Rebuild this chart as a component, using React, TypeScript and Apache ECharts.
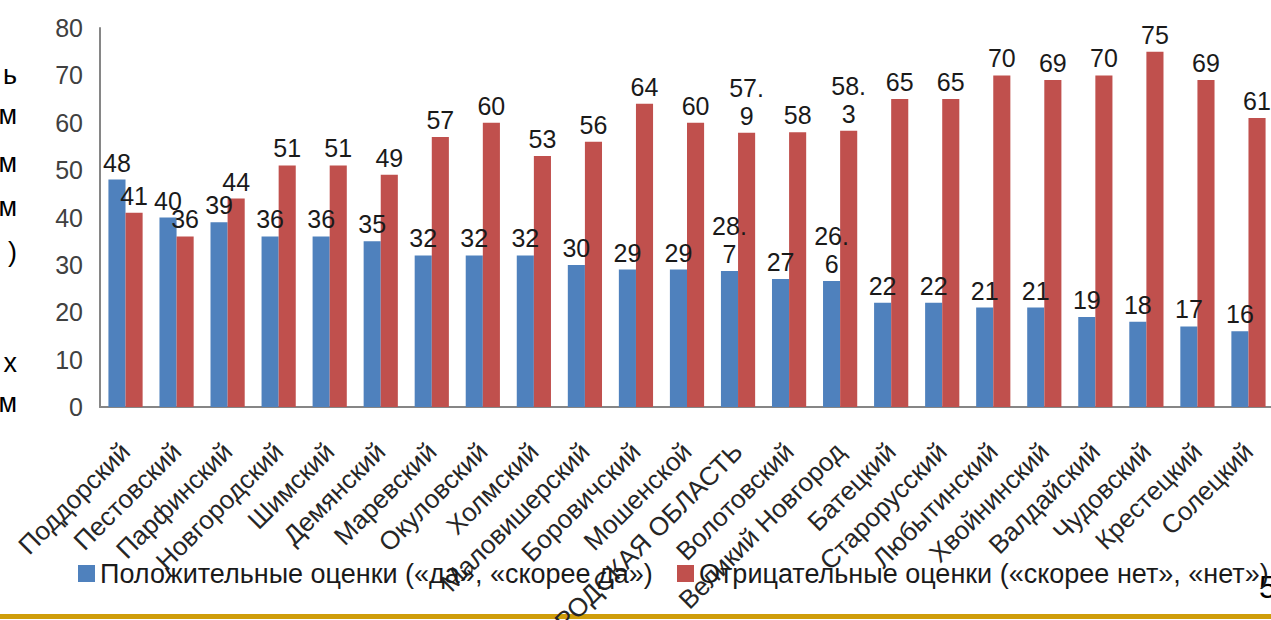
import React, { useEffect, useRef } from "react";
import * as echarts from "echarts";

const categories = [
  "Поддорский", "Пестовский", "Парфинский", "Новгородский", "Шимский", "Демянский",
  "Маревский", "Окуловский", "Холмский", "Маловишерский", "Боровичский", "Мошенской",
  "НОВГОРОДСКАЯ ОБЛАСТЬ", "Волотовский", "Великий Новгород", "Батецкий", "Старорусский",
  "Любытинский", "Хвойнинский", "Валдайский", "Чудовский", "Крестецкий", "Солецкий",
];
const positive = [48, 40, 39, 36, 36, 35, 32, 32, 32, 30, 29, 29, 28.7, 27, 26.6, 22, 22, 21, 21, 19, 18, 17, 16];
const negative = [41, 36, 44, 51, 51, 49, 57, 60, 53, 56, 64, 60, 57.9, 58, 58.3, 65, 65, 70, 69, 70, 75, 69, 61];
const seriesNames = [
  "Положительные оценки («да», «скорее да»)",
  "Отрицательные оценки («скорее нет», «нет»)",
];
const yTicks = { min: 0, max: 80, interval: 10 };
const sideText = ["ь", "м", "м", "м", ")", "х", "м"];
const sideTextY = [75, 115, 163, 207, 252, 363, 403];
const pageNumber = "5";

const FONT = "'Liberation Sans', Arial, sans-serif";

export default function App() {
  const ref = useRef<HTMLDivElement>(null);
  useEffect(() => {
    document.body.style.margin = "0";
    const chart = echarts.init(ref.current!, null, { renderer: "svg" });
    const label = {
      show: true,
      position: "top" as const,
      distance: 3,
      color: "#1a1a1a",
      fontSize: 25,
      lineHeight: 28,
      fontFamily: FONT,
      formatter: (p: any) => String(p.value).replace(".", ".\n"),
    };
    const legendBase = {
      top: 560,
      padding: 0,
      itemWidth: 17,
      itemHeight: 17,
      icon: "rect",
      textStyle: { fontSize: 27, color: "#1a1a1a", fontFamily: FONT },
    };
    chart.setOption({
      animation: false,
      backgroundColor: "#ffffff",
      textStyle: { fontFamily: FONT },
      grid: {
        left: 100,
        top: 28,
        width: 1174,
        height: 379,
        containLabel: false,
        outerBoundsMode: "none",
      },
      legend: [
        { ...legendBase, left: 78, data: [seriesNames[0]] },
        { ...legendBase, left: 677, data: [seriesNames[1]] },
      ],
      xAxis: {
        type: "category",
        data: categories,
        axisLine: { show: true, lineStyle: { color: "#868686", width: 2 } },
        axisTick: { show: false },
        axisLabel: {
          interval: 0,
          rotate: 45,
          margin: 40,
          fontSize: 26,
          color: "#262626",
          fontFamily: FONT,
        },
      },
      yAxis: {
        type: "value",
        min: yTicks.min,
        max: yTicks.max,
        interval: yTicks.interval,
        axisLine: { show: true, lineStyle: { color: "#868686", width: 2 } },
        axisTick: { show: false },
        splitLine: { show: false },
        axisLabel: { fontSize: 25, color: "#404040", margin: 17, fontFamily: FONT },
      },
      series: [
        {
          name: seriesNames[0],
          type: "bar",
          data: positive,
          barGap: "0%",
          barCategoryGap: "33%",
          itemStyle: { color: "#4F81BD" },
          label,
        },
        {
          name: seriesNames[1],
          type: "bar",
          data: negative,
          barGap: "0%",
          barCategoryGap: "33%",
          itemStyle: { color: "#C0504D" },
          label,
        },
      ],
      graphic: [
        ...sideText.map((t, i) => ({
          type: "text",
          x: 17,
          y: sideTextY[i],
          style: {
            text: t,
            fontSize: 27,
            fontFamily: FONT,
            fill: "#000000",
            textAlign: "right",
            textVerticalAlign: "middle",
          },
        })),
        {
          type: "text",
          x: 1259,
          y: 587,
          style: {
            text: pageNumber,
            fontSize: 32,
            fontFamily: FONT,
            fill: "#000000",
            textAlign: "left",
            textVerticalAlign: "middle",
          },
        },
        {
          type: "rect",
          shape: { x: 0, y: 614, width: 1271, height: 5 },
          style: { fill: "#CF9D0A" },
        },
      ],
    });
    return () => chart.dispose();
  }, []);
  return <div ref={ref} style={{ width: 1271, height: 620 }} />;
}
